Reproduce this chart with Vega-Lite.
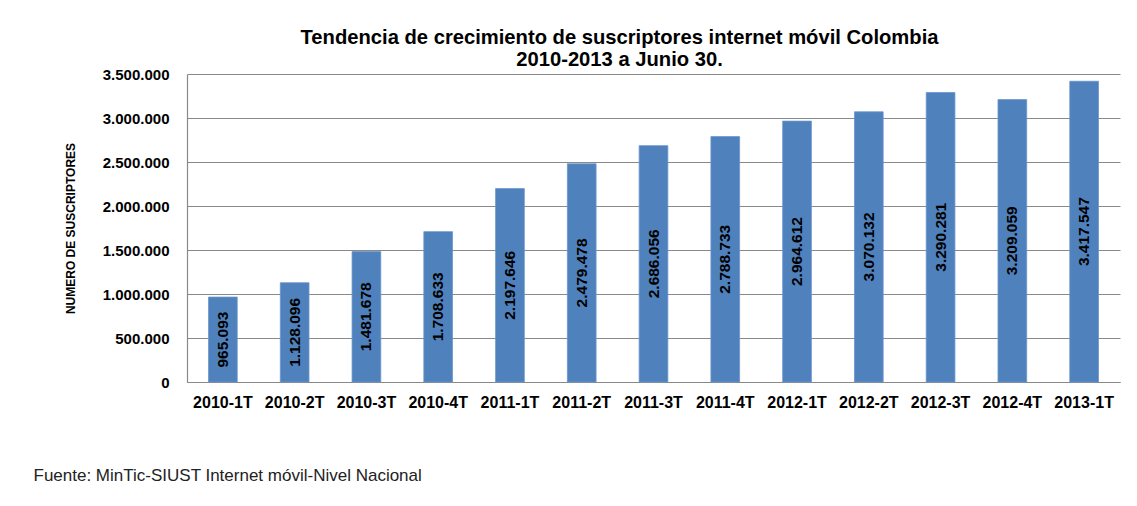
{
  "$schema": "https://vega.github.io/schema/vega-lite/v6.json",
  "autosize": "none",
  "width": 933,
  "height": 308,
  "padding": {"left": 187, "top": 74, "right": 17, "bottom": 124},
  "background": "white",
  "config": {
    "locale": {"number": {"decimal": ",", "thousands": ".", "grouping": [3], "currency": ["$", ""]}},
    "view": {"stroke": null},
    "font": "Liberation Sans"
  },
  "title": {
    "text": ["Tendencia de crecimiento de suscriptores internet móvil Colombia", "2010-2013 a Junio 30."],
    "font": "Liberation Sans",
    "fontSize": 20.2,
    "fontWeight": "bold",
    "color": "black",
    "anchor": "middle",
    "dx": -34,
    "lineHeight": 21.5,
    "offset": -3
  },
  "data": {
    "values": [
      {"periodo": "2010-1T", "suscriptores": 965093},
      {"periodo": "2010-2T", "suscriptores": 1128096},
      {"periodo": "2010-3T", "suscriptores": 1481678},
      {"periodo": "2010-4T", "suscriptores": 1708633},
      {"periodo": "2011-1T", "suscriptores": 2197646},
      {"periodo": "2011-2T", "suscriptores": 2479478},
      {"periodo": "2011-3T", "suscriptores": 2686056},
      {"periodo": "2011-4T", "suscriptores": 2788733},
      {"periodo": "2012-1T", "suscriptores": 2964612},
      {"periodo": "2012-2T", "suscriptores": 3070132},
      {"periodo": "2012-3T", "suscriptores": 3290281},
      {"periodo": "2012-4T", "suscriptores": 3209059},
      {"periodo": "2013-1T", "suscriptores": 3417547}
    ]
  },
  "encoding": {
    "x": {
      "field": "periodo",
      "type": "nominal",
      "sort": null,
      "scale": {"paddingInner": 0.6, "paddingOuter": 0.3},
      "axis": {
        "title": "Fuente: MinTic-SIUST Internet móvil-Nivel Nacional",
        "titleFont": "Liberation Sans",
        "titleFontSize": 17,
        "titleFontWeight": "normal",
        "titleColor": "#222",
        "titleAnchor": "start",
        "titleAlign": "left",
        "titleBaseline": "middle",
        "titleX": -154,
        "titleY": 93,
        "labelAngle": 0,
        "labelFont": "Liberation Sans",
        "labelFontSize": 16,
        "labelFontWeight": "bold",
        "labelColor": "black",
        "labelPadding": 12,
        "ticks": false,
        "domainColor": "#898989",
        "domainWidth": 1.2
      }
    }
  },
  "layer": [
    {
      "mark": {"type": "bar", "color": "#4F81BD", "stroke": "#6A95CC", "strokeWidth": 0.8},
      "encoding": {
        "y": {
          "field": "suscriptores",
          "type": "quantitative",
          "scale": {"domain": [0, 3500000], "nice": false},
          "axis": {
            "title": "NUMERO DE SUSCRIPTORES",
            "titleFont": "Liberation Sans",
            "titleFontSize": 12,
            "titleFontWeight": "bold",
            "titleColor": "black",
            "titleX": -110,
            "values": [0, 500000, 1000000, 1500000, 2000000, 2500000, 3000000, 3500000],
            "format": ",.0f",
            "labelFont": "Liberation Sans",
            "labelFontSize": 15,
            "labelFontWeight": "bold",
            "labelColor": "black",
            "labelPadding": 18,
            "ticks": false,
            "grid": true,
            "gridColor": "#898989",
            "gridWidth": 1.2,
            "domainColor": "#898989",
            "domainWidth": 1.2
          }
        }
      }
    },
    {
      "transform": [{"calculate": "datum.suscriptores / 2", "as": "mitad"}],
      "mark": {"type": "text", "angle": -90, "align": "center", "baseline": "middle", "font": "Liberation Sans", "fontSize": 15.5, "fontWeight": "bold", "color": "black"},
      "encoding": {
        "y": {"field": "mitad", "type": "quantitative"},
        "text": {"field": "suscriptores", "type": "quantitative", "format": ",.0f"}
      }
    }
  ]
}
